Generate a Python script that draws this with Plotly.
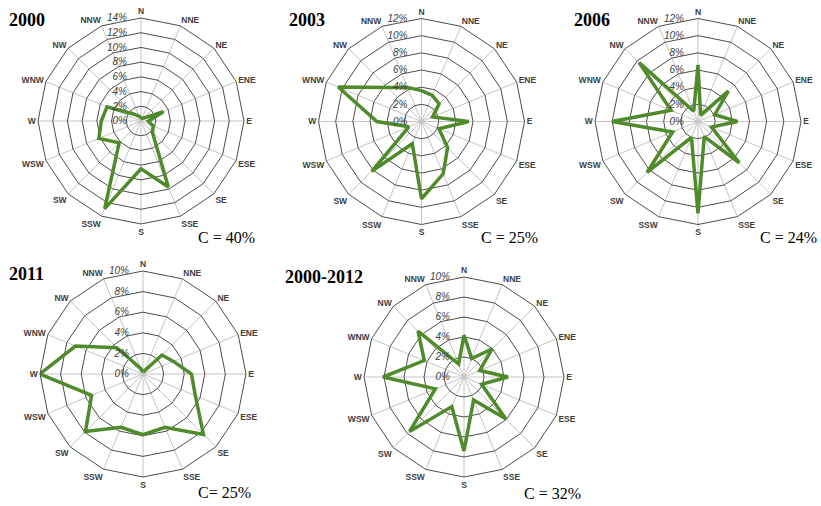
import plotly.graph_objects as go

directions = ["N", "NNE", "NE", "ENE", "E", "ESE", "SE", "SSE",
              "S", "SSW", "SW", "WSW", "W", "WNW", "NW", "NNW"]

titles = ["2000", "2003", "2006", "2011", "2000-2012"]
calm_labels = ["C = 40%", "C = 25%", "C = 24%", "C= 25%", "C = 32%"]
radial_max = [14, 12, 12, 10, 10]

freq_2000 = [0.5, 0.4, 0.6, 3.3, 1.0, 1.8, 2.2, 9.7, 6.5, 12.9, 4.2, 6.2, 5.4, 5.0, 1.3, 0.7]
freq_2003 = [3.6, 3.3, 2.9, 1.4, 5.5, 2.2, 4.3, 6.6, 9.0, 2.8, 8.2, 1.6, 5.2, 10.5, 5.6, 4.3]
freq_2006 = [6.6, 0.8, 5.0, 2.1, 4.6, 1.7, 6.8, 1.9, 10.7, 2.0, 8.4, 3.2, 10.0, 3.4, 9.7, 1.3]
freq_2011 = [0.2, 0.3, 2.6, 3.2, 4.7, 5.5, 8.3, 5.6, 5.9, 5.6, 7.9, 5.4, 10.0, 7.1, 3.6, 0.6]
freq_all = [4.2, 2.0, 4.0, 1.7, 4.4, 1.9, 5.9, 2.5, 7.4, 3.2, 7.7, 3.1, 8.1, 4.3, 6.5, 1.4]

series = [freq_2000, freq_2003, freq_2006, freq_2011, freq_all]

W, H = 821, 506
# panel centres and radii in pixels
centres = [(141, 121, 103), (421.5, 121.5, 103), (698, 121.5, 103),
           (143, 374, 103), (464, 377, 100)]
title_pos = [(7, 20), (287, 20), (572, 20), (7, 274), (283, 277)]
calm_pos = [(257, 238), (540, 238), (819, 238), (253, 492), (583, 493)]

fig = go.Figure()
layout = dict(width=W, height=H, margin=dict(l=0, r=0, t=0, b=0),
              paper_bgcolor="white", plot_bgcolor="white", showlegend=False,
              annotations=[])

for i, vals in enumerate(series):
    key = "polar" if i == 0 else f"polar{i+1}"
    fig.add_trace(go.Scatterpolar(
        r=vals + [vals[0]], theta=directions + [directions[0]],
        mode="lines", line=dict(color="#4f8a2b", width=3.5),
        subplot=key, hoverinfo="skip"))
    cx, cy, rad = centres[i]
    layout[key] = dict(
        domain=dict(x=[(cx - rad) / W, (cx + rad) / W],
                    y=[1 - (cy + rad) / H, 1 - (cy - rad) / H]),
        gridshape="linear",
        bgcolor="white",
        angularaxis=dict(type="category", categoryarray=directions,
                         direction="clockwise", rotation=90,
                         showline=True, linecolor="#4d4d4d", linewidth=1,
                         gridcolor="#c4c4c4", gridwidth=1,
                         ticks="", tickfont=dict(family="Liberation Sans", size=8.5,
                                                 color="#404040", weight="bold")),
        radialaxis=dict(range=[0, radial_max[i]], dtick=2,
                        ticksuffix="%\u2003\u2009",
                        angle=90, tickangle=90, side="counterclockwise",
                        showline=False, ticks="",
                        gridcolor="#4d4d4d", gridwidth=1,
                        tickfont=dict(family="Liberation Sans", size=10,
                                      color="#404040", style="italic")),
    )
    tx, ty = title_pos[i]
    layout["annotations"].append(dict(
        text=f"<b>{titles[i]}</b>", x=tx / W, y=1 - ty / H, xref="paper", yref="paper",
        xanchor="left", yanchor="middle", showarrow=False,
        font=dict(family="Liberation Serif", size=18, color="black")))
    mx, my = calm_pos[i]
    layout["annotations"].append(dict(
        text=calm_labels[i], x=mx / W, y=1 - my / H, xref="paper", yref="paper",
        xanchor="right", yanchor="middle", showarrow=False,
        font=dict(family="Liberation Serif", size=16, color="black")))

fig.update_layout(**layout)
fig.write_html("out.html", config={"displayModeBar": False},
               post_script="document.body.style.margin='0px';")
